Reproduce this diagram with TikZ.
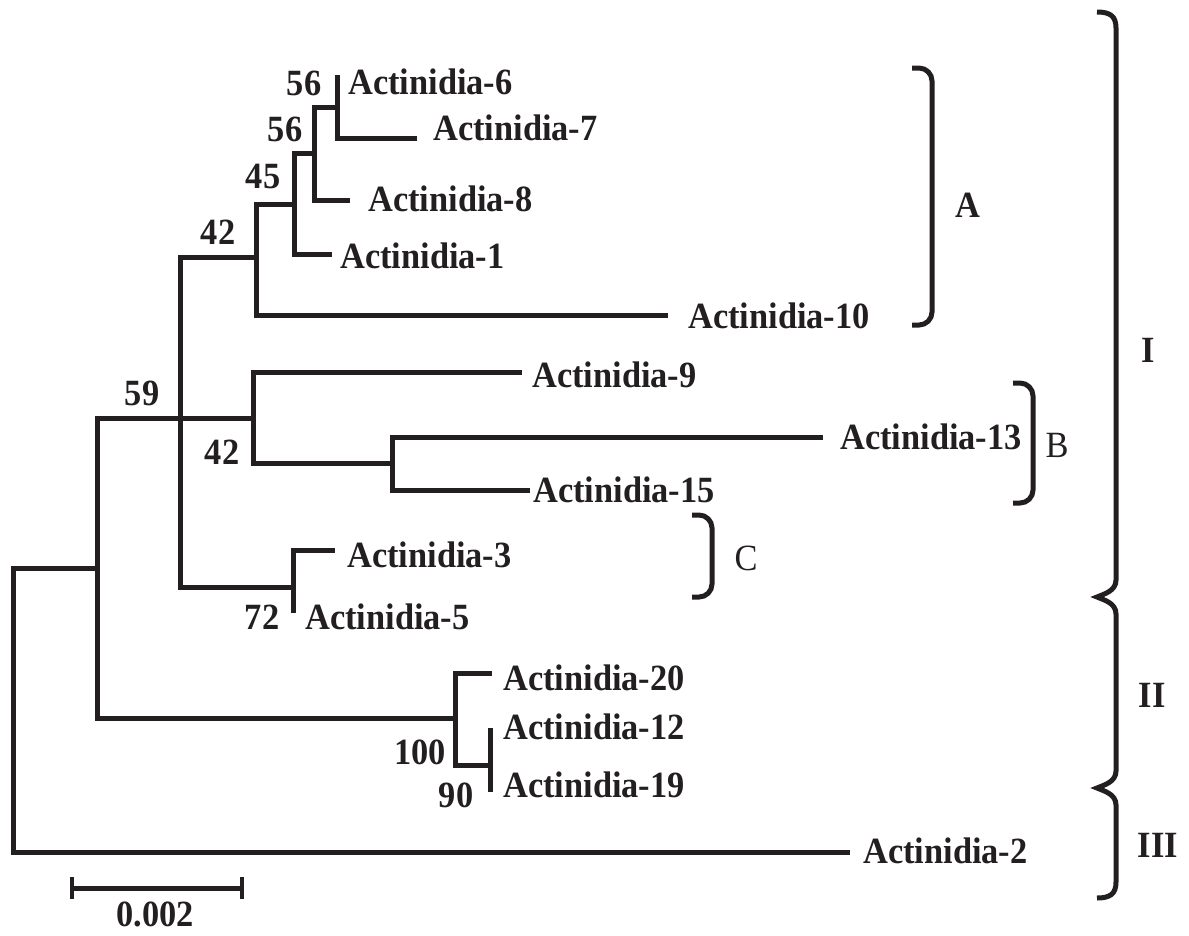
\documentclass[tikz,border=0pt]{standalone}
\usepackage{fontspec}
\setmainfont{Liberation Serif}
\newfontfamily\treefont{Liberation Serif}[FakeStretch=0.93]
\usepackage{xcolor}
\definecolor{treeline}{HTML}{231F20}
\tikzset{
  branch/.style={
    line width=5pt,
    draw=treeline
  },
  taxon/.style={
    font=\treefont\bfseries\fontsize{37}{42}\selectfont,
    text=treeline,
    anchor=west,
    inner sep=0pt,
    text height=24.5pt,
    text depth=0pt
  },
  boot/.style={
    font=\treefont\bfseries\fontsize{37}{42}\selectfont,
    text=treeline,
    inner sep=0pt,
    text height=24.5pt,
    text depth=0pt
  },
  bracket/.style={
    line width=5pt,
    draw=treeline,
    rounded corners=13pt
  },
  cladename/.style={
    font=\treefont\fontsize{37}{42}\selectfont,
    text=treeline,
    inner sep=0pt,
    text height=24.5pt,
    text depth=0pt
  },
  groupname/.style={
    cladename,
    font=\treefont\bfseries\fontsize{37}{42}\selectfont
  }
}

\begin{document}
\begin{tikzpicture}[x=1pt,y=-1pt]
\useasboundingbox (0,0) rectangle (1189,935);

% inner nodes of the tree
\coordinate (root) at (13,710);
\coordinate (n59)  at (97,568);
\coordinate (nI)   at (180,418);
\coordinate (nA)   at (256,257);
\coordinate (n45)  at (294,204);
\coordinate (n56b) at (314,153);
\coordinate (n56a) at (337,107);
\coordinate (nB)   at (253,418);
\coordinate (n13)  at (392,463);
\coordinate (nC)   at (293,587);
\coordinate (nII)  at (455,718);
\coordinate (n90)  at (490,765);

% tips
\coordinate (e6)  at (337,75);
\coordinate (e7)  at (417,138);
\coordinate (e8)  at (350,200);
\coordinate (e1)  at (332,254);
\coordinate (e10) at (668,315);
\coordinate (e9)  at (522,372);
\coordinate (e13) at (823,437);
\coordinate (e15) at (530,490);
\coordinate (e3)  at (335,550);
\coordinate (e5)  at (293,613);
\coordinate (e20) at (492,673);
\coordinate (e12) at (490,728);
\coordinate (e19) at (490,792);
\coordinate (e2)  at (850,852);

\foreach \from/\to in {root/n59, root/e2, n59/nI, n59/nII,
    nI/nA, nI/nB, nI/nC, nA/n45, nA/e10, n45/n56b, n45/e1,
    n56b/n56a, n56b/e8, n56a/e6, n56a/e7, nB/e9, nB/n13,
    n13/e13, n13/e15, nC/e3, nC/e5, nII/e20, nII/n90,
    n90/e12, n90/e19}
  \draw[branch] (\from) |- (\to);

% taxa
\node[taxon] (t6)  at (348,82)  {Actinidia-6};
\node[taxon] (t7)  at (433,128) {Actinidia-7};
\node[taxon] (t8)  at (368,199) {Actinidia-8};
\node[taxon] (t1)  at (340,256) {Actinidia-1};
\node[taxon] (t10) at (688,316) {Actinidia-10};
\node[taxon] (t9)  at (532,375) {Actinidia-9};
\node[taxon] (t13) at (840,437) {Actinidia-13};
\node[taxon] (t15) at (533,490) {Actinidia-15};
\node[taxon] (t3)  at (347,555) {Actinidia-3};
\node[taxon] (t5)  at (305,617) {Actinidia-5};
\node[taxon] (t20) at (503,678) {Actinidia-20};
\node[taxon] (t12) at (503,727) {Actinidia-12};
\node[taxon] (t19) at (503,785) {Actinidia-19};
\node[taxon] (t2)  at (863,851) {Actinidia-2};

% bootstrap values
\node[boot] (b56a) at (304,83)  {56};
\node[boot] (b56b) at (285,129) {56};
\node[boot] (b45)  at (263,176) {45};
\node[boot] (b42a) at (218,232) {42};
\node[boot] (b59)  at (142,393) {59};
\node[boot] (b42b) at (222,452) {42};
\node[boot] (b72)  at (262,617) {72};
\node[boot] (b100) at (420,752) {100};
\node[boot] (b90)  at (456,795) {90};

% clades A, B, C
\draw[bracket] (912,68) -- (932,68) -- (932,325) -- (912,325);
\draw[bracket] (1013,383) -- (1033,383) -- (1033,503) -- (1013,503);
\draw[bracket] (692,515) -- (712,515) -- (712,597) -- (692,597);
\node[groupname] (cA) at (968,205) {A};
\node[cladename] (cB) at (1057,445) {B};
\node[cladename] (cC) at (746,558) {C};

% groups I, II, III
\draw[line width=5pt, draw=treeline]
  (1097,12) .. controls (1110,12) and (1116,16) .. (1116,28)
  -- (1116,580) .. controls (1116,591) and (1104,594) .. (1097,597)
  .. controls (1104,600) and (1116,603) .. (1116,614)
  -- (1116,771) .. controls (1116,782) and (1104,785) .. (1097,788)
  .. controls (1104,791) and (1116,794) .. (1116,805)
  -- (1116,882) .. controls (1116,894) and (1110,898) .. (1097,898);
\node[groupname] (gI)   at (1148,350) {I};
\node[groupname] (gII)  at (1152,695) {II};
\node[groupname] (gIII) at (1158,845) {III};

% scale bar
\coordinate (s0) at (72,888);
\coordinate (s1) at (242,888);
\draw[branch] (s0) -- (s1);
\draw[line width=4pt, draw=treeline] ([yshift=-11pt]s0) -- ([yshift=11pt]s0);
\draw[line width=4pt, draw=treeline] ([yshift=-11pt]s1) -- ([yshift=11pt]s1);
\node[boot] (scale) at (155,914) {0.002};

\end{tikzpicture}
\end{document}
